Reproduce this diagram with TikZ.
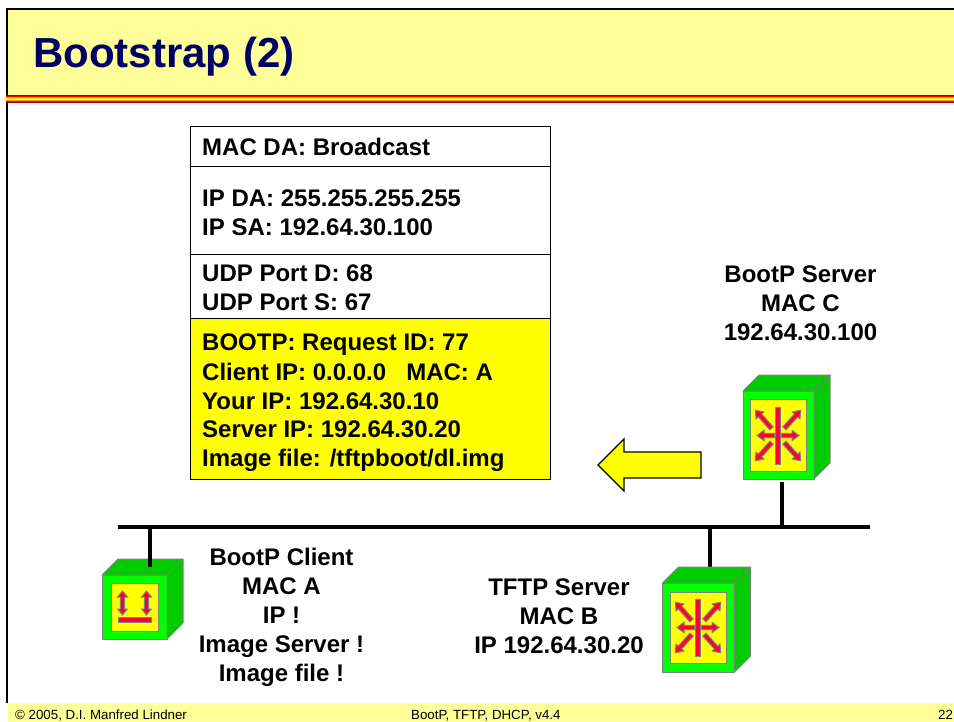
\documentclass[tikz,border=0pt]{standalone}
\usepackage{fontspec}
\setmainfont{Liberation Sans}
\usetikzlibrary{calc}
\definecolor{headyellow}{HTML}{FFFF99}
\definecolor{navytitle}{HTML}{000066}
\definecolor{devgreen}{HTML}{00FF00}
\definecolor{devdark}{HTML}{00CC00}
\definecolor{arrowred}{HTML}{FF0033}
\definecolor{pureyellow}{HTML}{FFFF00}
\definecolor{pureorange}{HTML}{FF9900}
\definecolor{stripedark}{HTML}{990000}
\definecolor{stripered}{HTML}{FF0000}
\tikzset{
 row/.style={draw=black,line width=1,inner sep=0,outer sep=0,minimum width=360,minimum height=#1},
 rowtext/.style={anchor=base west,inner sep=0,font=\fontsize{24}{29}\selectfont\bfseries},
 label/.style={anchor=base,inner sep=0,font=\fontsize{24}{29}\selectfont\bfseries},
 foot/.style={anchor=base west,inner sep=0,font=\fontsize{13.3}{15}\selectfont},
 wire/.style={line width=4,black},
 devfront/.style={draw=gray,line width=1,fill=devgreen,inner sep=0,outer sep=0},
 devface/.style={draw=gray,line width=1,fill=pureyellow,inner sep=0,outer sep=0},
 devside/.style={draw=gray,line width=1,fill=devdark,line join=round},
 redarrow/.style={draw=gray,line width=1,fill=arrowred,line join=miter},
 burst/.pic={
  \draw[redarrow] (-2.5,-28.5) rectangle (2.5,28.5);
  \foreach \a/\r/\s in {0/3.5/21,180/3.5/21,48/9.6/34,132/9.6/34,228/9.6/34,312/9.6/34}
   \draw[redarrow,rotate=\a] (\r,-2.2) -- ({\s-7},-2.2) -- ({\s-7},-5.2) -- (\s,0) -- ({\s-7},5.2) -- ({\s-7},2.2) -- (\r,2.2) -- cycle;
 },
 updown/.pic={
  \foreach \x in {-12,12}
   \draw[redarrow,shift={(\x,0)}] (-2.2,-6) -- (-5,-6) -- (0,-12) -- (5,-6) -- (2.2,-6) -- (2.2,6) -- (5,6) -- (0,12) -- (-5,6) -- (-2.2,6) -- cycle;
  \draw[redarrow] (-16.5,14.5) rectangle (16.5,19);
 }
}
\newcommand{\devshell}[1]{
 \draw[devside] (#1.north west) -- ++(16,-16) -- ($(#1.north east)+(16,-16)$) -- ($(#1.south east)+(16,-16)$) -- (#1.south east) -- (#1.north east) -- cycle;
 \draw[devside] (#1.north east) -- ++(16,-16);
}
\begin{document}
\begin{tikzpicture}[x=1pt,y=-1pt]
 \useasboundingbox (0,0) rectangle (954,722);
 \clip (0,0) rectangle (954,722);

 \fill[headyellow] (8,9) rectangle (954,95);
 \fill[headyellow] (8,703) rectangle (954,722);
 \draw[line width=2.5,black] (7,703) -- (7,9) -- (954,9);
 \foreach \y/\c in {95/stripedark,96/stripered,97/pureorange,98/pureyellow,99/pureyellow,100/pureorange,101/stripered,102/stripedark}
  \fill[\c] (6,\y) rectangle (954,\y+1);
 \node (title) at (33,68) [anchor=base west,inner sep=0,text=navytitle,font=\fontsize{42}{48}\selectfont\bfseries] {Bootstrap (2)};

 \node (macrow) at (370,147) [row=40] {};
 \node (iprow) at (370,211) [row=88] {};
 \node (udprow) at (370,287) [row=64] {};
 \node (bootrow) at (370,399) [row=160,fill=pureyellow] {};
 \node (macda) at (202,156) [rowtext] {MAC DA: Broadcast};
 \node (ipda) at (202,207) [rowtext] {IP DA: 255.255.255.255};
 \node (ipsa) at (202,236) [rowtext] {IP SA: 192.64.30.100};
 \node (udpd) at (202,282) [rowtext] {UDP Port D: 68};
 \node (udps) at (202,311) [rowtext] {UDP Port S: 67};
 \node (bootid) at (202,351) [rowtext] {BOOTP: Request ID: 77};
 \node (bootclient) at (202,380) [rowtext] {Client IP: 0.0.0.0\ \ \ MAC: A};
 \node (bootyour) at (202,409) [rowtext] {Your IP: 192.64.30.10};
 \node (bootserver) at (202,437) [rowtext] {Server IP: 192.64.30.20};
 \node (bootimage) at (202,466) [rowtext] {Image file: /tftpboot/dl.img};

 \node (servername) at (800.5,283) [label] {BootP Server};
 \node (servermac) at (800.5,312) [label] {MAC C};
 \node (serverip) at (800.5,341) [label] {192.64.30.100};
 \node (tftpname) at (559,595) [label] {TFTP Server};
 \node (tftpmac) at (559,624) [label] {MAC B};
 \node (tftpip) at (559,653) [label] {IP 192.64.30.20};
 \node (clientname) at (281.5,565) [label] {BootP Client};
 \node (clientmac) at (281.5,594) [label] {MAC A};
 \node (clientip) at (281.5,623) [label] {IP !};
 \node (clientserver) at (281.5,652) [label] {Image Server !};
 \node (clientfile) at (281.5,681) [label] {Image file !};

 \draw[line width=1.3,black,fill=pureyellow,line join=miter] (598,465) -- (624,439) -- (624,452) -- (701,452) -- (701,478) -- (624,478) -- (624,491) -- cycle;

 \coordinate (busl) at (118,527);
 \coordinate (busr) at (870,527);
 \coordinate (clientdrop) at (150,527);
 \coordinate (clientend) at (150,567);
 \coordinate (tftpdrop) at (710,527);
 \coordinate (tftpend) at (710,570);
 \coordinate (serverdrop) at (782,527);
 \coordinate (serverend) at (782,482);
 \draw[wire] (tftpdrop) -- (tftpend);
 \draw[wire] (serverdrop) -- (serverend);

 \node (server) at (778.5,435) [devfront,minimum width=71,minimum height=88] {};
 \devshell{server}
 \node (serverface) at (server.center) [devface,minimum width=56,minimum height=72] {};
 \pic at (778,435.5) {burst};

 \node (tftp) at (698.5,627.5) [devfront,minimum width=72,minimum height=89] {};
 \devshell{tftp}
 \node (tftpface) at (tftp.center) [devface,minimum width=56,minimum height=71] {};
 \pic at (698,627.5) {burst};

 \node (client) at (134.5,607) [devfront,minimum width=65,minimum height=64] {};
 \devshell{client}
 \node (clientface) at (client.center) [devface,minimum width=47,minimum height=48] {};
 \pic at (134.5,603) {updown};

 \draw[wire] (busl) -- (busr);
 \draw[wire] (clientdrop) -- (clientend);

 \node (footl) at (15,719) [foot] {© 2005, D.I. Manfred Lindner};
 \node (footm) at (411,719) [foot] {BootP, TFTP, DHCP, v4.4};
 \node (footr) at (938,719) [foot] {22};
\end{tikzpicture}
\end{document}
